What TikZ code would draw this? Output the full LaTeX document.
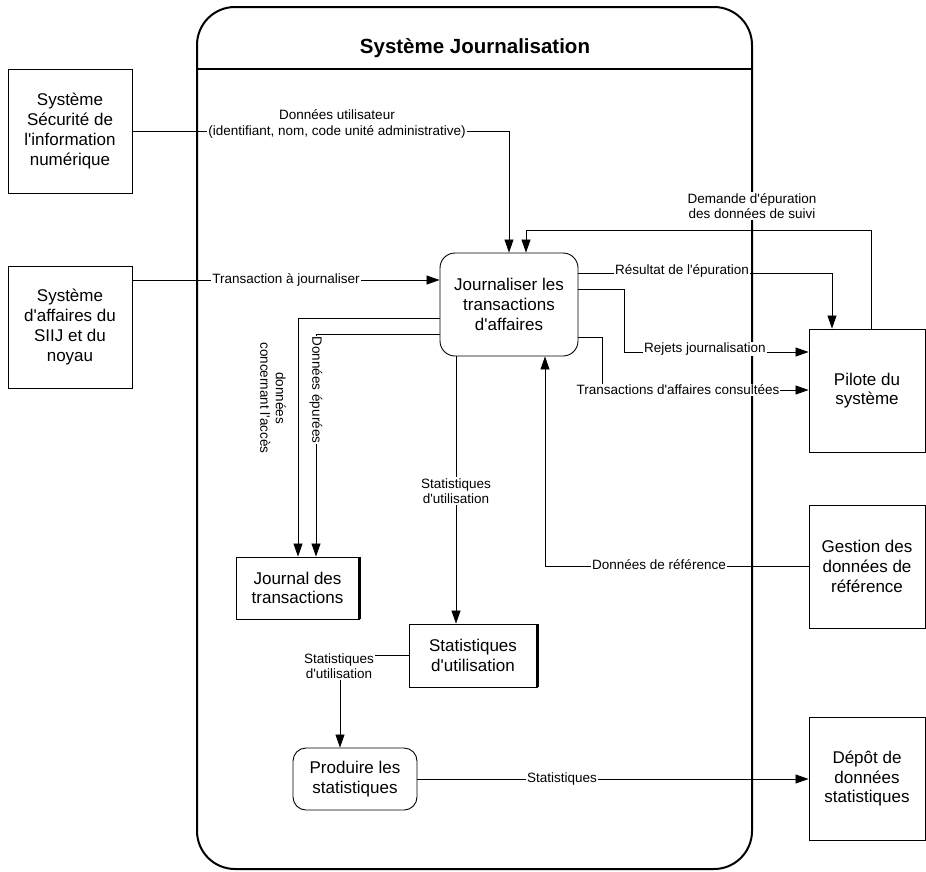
\documentclass[tikz,border=0pt]{standalone}
\usepackage{fontspec}
\setmainfont{Liberation Sans}[Ligatures=TeXOff]
\usetikzlibrary{arrows.meta}

\tikzset{
  boxtext/.style={font=\fontsize{17}{19.7}\selectfont, align=center},
  extbox/.style={boxtext, draw, line width=0.9pt, inner sep=0pt},
  procbox/.style={boxtext, draw, line width=0.9pt, rounded corners=15pt, inner sep=0pt, fill=white},
  storebox/.style={boxtext, draw, line width=0.9pt, inner sep=0pt, fill=white},
  flow/.style={line width=0.8pt, -{Triangle[length=13pt,width=9pt]}},
  flowlab/.style={font=\fontsize{13.5}{15.5}\selectfont, align=center, fill=white, inner sep=1pt},
}

\begin{document}
\begin{tikzpicture}[x=1pt, y=-1pt]
\useasboundingbox (0,0) rectangle (926,871);

% system boundary with its title band
\draw[line width=2pt, rounded corners=38pt] (197,7) rectangle (752,869);
\draw[line width=2pt] (197,69) -- (752,69);
\node[font=\bfseries\fontsize{20.5}{24}\selectfont] (title) at (475,48) {Système Journalisation};

% external entities
\node[extbox, minimum width=124pt, minimum height=124pt] (secu) at (70,131)
  {Système\\Sécurité de\\l'information\\numérique};
\node[extbox, minimum width=124pt, minimum height=122pt] (siij) at (70,327)
  {Système\\d'affaires du\\SIIJ et du\\noyau};
\node[extbox, minimum width=116pt, minimum height=123pt] (pilote) at (867,390.5)
  {Pilote du\\système};
\node[extbox, minimum width=116pt, minimum height=123pt] (gest) at (867,566.5)
  {Gestion des\\données de\\référence};
\node[extbox, minimum width=116pt, minimum height=123pt] (depot) at (867,778.5)
  {Dépôt de\\données\\statistiques};

% processes
\node[procbox, minimum width=138pt, minimum height=103pt] (jour) at (509,304.5)
  {Journaliser les\\transactions\\d'affaires};
\node[procbox, rounded corners=13pt, minimum width=124pt, minimum height=62pt] (prod) at (355,779)
  {Produire les\\statistiques};

% data stores
\node[storebox, minimum width=123pt, minimum height=62pt] (journal) at (297.5,588)
  {Journal des\\transactions};
\draw[line width=2.5pt] (journal.north east) -- (journal.south east);
\node[storebox, minimum width=128pt, minimum height=63pt] (stats) at (473,655.5)
  {Statistiques\\d'utilisation};
\draw[line width=2.5pt] (stats.north east) -- (stats.south east);

% data flows
\draw[flow] (secu.east) -| (jour.north);
\draw[flow] (siij.east |- 0,280) -- (jour.west |- 0,280);
\draw[flow] (pilote.north -| 871,0) -- (871,230) -- (526,230) -- (jour.north -| 526,0);
\draw[flow] (jour.east |- 0,273) -| (pilote.north -| 832,0);
\draw[flow] (jour.east |- 0,289) -- (624,289) -- (624,352) -- (pilote.west |- 0,352);
\draw[flow] (jour.east |- 0,337) -- (602,337) -- (602,390) -- (pilote.west |- 0,390);
\draw[flow] (gest.west) -- (545,566.5) -- (jour.south -| 545,0);
\draw[flow] (jour.west |- 0,318) -- (298,318) -- (journal.north -| 298,0);
\draw[flow] (jour.west |- 0,334) -- (316,334) -- (journal.north -| 316,0);
\draw[flow] (jour.south -| 456,0) -- (stats.north -| 456,0);
\draw[flow] (stats.west) -| (prod.north -| 340,0);
\draw[flow] (prod.east) -- (prod.east -| depot.west);

% flow labels
\node[flowlab] (l-util) at (337,124) {Données utilisateur\\(identifiant, nom, code unité administrative)};
\node[flowlab] (l-trans) at (286,280) {Transaction à journaliser};
\node[flowlab] (l-dem) at (752,206) {Demande d'épuration\\des données de suivi};
\node[flowlab] (l-res) at (682,271) {Résultat de l'épuration};
\node[flowlab] (l-rej) at (705,349) {Rejets journalisation};
\node[flowlab] (l-cons) at (678,390) {Transactions d'affaires consultées};
\node[flowlab] (l-ref) at (659,565) {Données de référence};
\node[flowlab, rotate=-90] (l-acc) at (273,398) {données\\concernant l'accès};
\node[flowlab, rotate=-90] (l-epu) at (316,390) {Données épurées};
\node[flowlab] (l-st1) at (456,491) {Statistiques\\d'utilisation};
\node[flowlab] (l-st2) at (339,666) {Statistiques\\d'utilisation};
\node[flowlab] (l-stat) at (562,779) {Statistiques};
\end{tikzpicture}
\end{document}
